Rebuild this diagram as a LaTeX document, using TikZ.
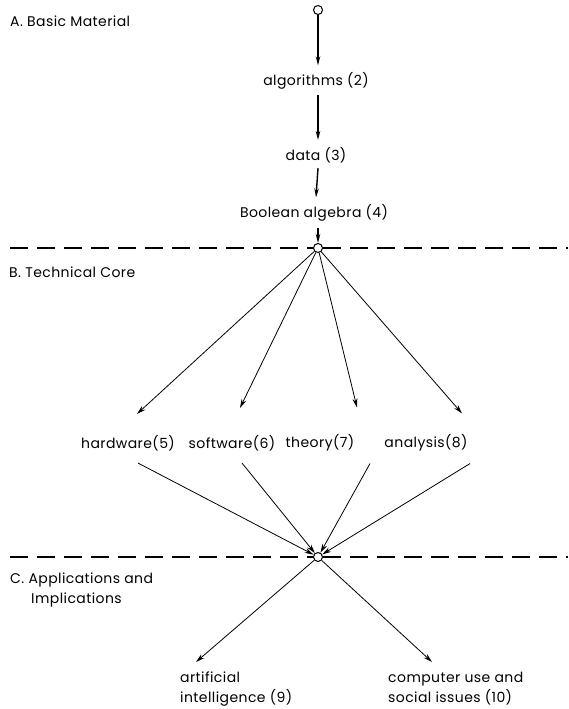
\documentclass[tikz,border=0pt]{standalone}
\usepackage{fontspec}
\setmainfont{Poppins}[LetterSpace=3]
\usetikzlibrary{arrows.meta}
\begin{document}
\begin{tikzpicture}[x=1pt,y=-1pt,
  lbl/.style={inner sep=0pt,font=\fontsize{14}{17}\selectfont},
  sec/.style={inner sep=0pt,anchor=west,align=left,font=\fontsize{14}{20}\selectfont},
  hub/.style={circle,draw,line width=1pt,minimum size=9pt,inner sep=0pt,fill=white},
  thickarr/.style={line width=1.4pt,-{Stealth[length=9pt,width=4.5pt]}},
  thinarr/.style={line width=0.8pt,-{Stealth[length=9pt,width=5pt]}},
  sepline/.style={line width=1.2pt,dash pattern=on 18pt off 9pt}]
\useasboundingbox (0,0) rectangle (568,709);
% section labels
\node[sec] (secA) at (10,21) {A. Basic Material};
\node[sec] (secB) at (9,272) {B. Technical Core};
\node[sec] (secC) at (10,590) {C. Applications and\\\hspace*{21pt}Implications};
% hubs
\node[hub] (c1) at (318,10) {};
\node[hub] (c2) at (318,248) {};
\node[hub] (c3) at (318,557) {};
% dashed separators
\coordinate (l1) at (10,248); \coordinate (r1) at (568,248);
\coordinate (l2) at (10,557); \coordinate (r2) at (568,557);
\draw[sepline] (l1) -- (c2.west);
\draw[sepline] (c2.east) -- (r1);
\draw[sepline] (l2) -- (c3.west);
\draw[sepline] (c3.east) -- (r2);
% basic material chain
\node[lbl] (alg) at (316,81) {algorithms (2)};
\node[lbl] (dat) at (316,155) {data (3)};
\node[lbl] (boo) at (314,213) {Boolean algebra (4)};
\draw[thickarr] (c1) -- ([xshift=2pt,yshift=7pt]alg.north);
\draw[thickarr] ([xshift=2pt,yshift=-5pt]alg.south) -- ([xshift=2pt,yshift=7pt]dat.north);
\draw[thickarr] ([xshift=2pt,yshift=-5pt]dat.south) -- ([xshift=2pt,yshift=7pt]boo.north);
\draw[thickarr] ([xshift=4pt,yshift=-6pt]boo.south) -- (c2);
% technical core
\node[lbl] (hw) at (128,443) {hardware(5)};
\node[lbl] (sw) at (232,443) {software(6)};
\node[lbl] (th) at (320,443) {theory(7)};
\node[lbl] (an) at (426,443) {analysis(8)};
\draw[thinarr] (c2) -- ([xshift=9pt,yshift=21pt]hw.north);
\draw[thinarr] (c2) -- ([xshift=8pt,yshift=27pt]sw.north);
\draw[thinarr] (c2) -- ([xshift=37pt,yshift=27pt]th.north);
\draw[thinarr] (c2) -- ([xshift=36pt,yshift=21pt]an.north);
\draw[thinarr] ([xshift=10pt,yshift=-12pt]hw.south) -- (c3);
\draw[thinarr] ([xshift=10pt,yshift=-12pt]sw.south) -- (c3);
\draw[thinarr] ([xshift=50pt,yshift=-12pt]th.south) -- (c3);
\draw[thinarr] ([xshift=44pt,yshift=-12pt]an.south) -- (c3);
% applications
\node[lbl,anchor=north west,align=left,font=\fontsize{14}{20}\selectfont] (ai) at (180,672) {artificial\\intelligence (9)};
\node[lbl,anchor=north west,align=left,font=\fontsize{14}{20}\selectfont] (cu) at (388,672) {computer use and\\social issues (10)};
\draw[thinarr] (c3) -- ([xshift=16pt,yshift=10pt]ai.north west);
\draw[thinarr] (c3) -- ([xshift=44pt,yshift=10pt]cu.north west);
\end{tikzpicture}
\end{document}
